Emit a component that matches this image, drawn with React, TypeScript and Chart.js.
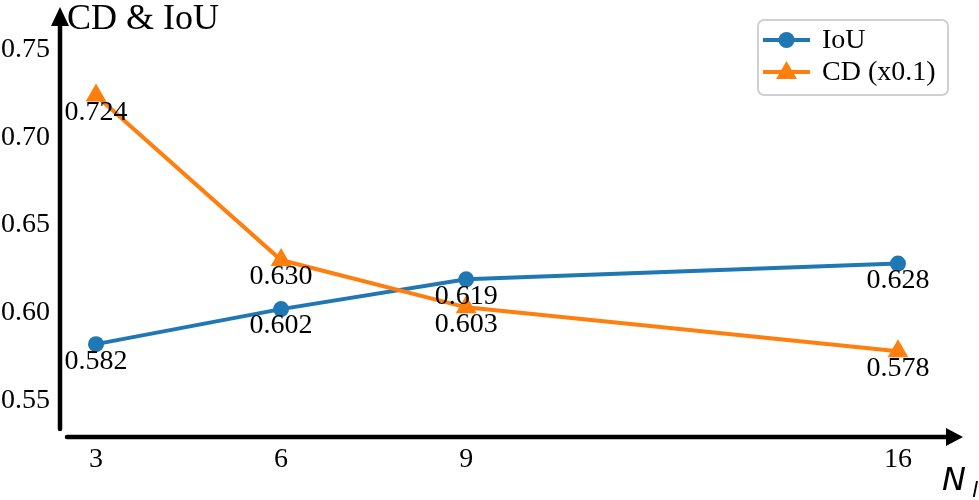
import React, { useEffect, useRef } from "react";
import { Chart, registerables } from "chart.js";

Chart.register(...registerables);

const X_VALUES = [3, 6, 9, 16];
const IOU = [0.582, 0.602, 0.619, 0.628];
const CD = [0.724, 0.63, 0.603, 0.578];
const Y_TICKS = [0.55, 0.6, 0.65, 0.7, 0.75];
const X_TICKS = [3, 6, 9, 16];
const SERIES_LABELS = ["IoU", "CD (x0.1)"];
const Y_TITLE = "CD & IoU";
const X_TITLE = "N";
const X_TITLE_SUB = "l";

const BLUE = "#1f77b4";
const ORANGE = "#ff7f0e";
const SERIF = "'Liberation Serif', 'Times New Roman', serif";
const FS = 28;

const decorPlugin = {
  id: "decor",
  beforeDatasetsDraw(chart: any) {
    const { ctx, chartArea } = chart;
    const L = chartArea.left;
    const B = chartArea.bottom;
    const T = chartArea.top;
    const R = chartArea.right;
    ctx.save();
    ctx.strokeStyle = "#000";
    ctx.fillStyle = "#000";
    ctx.lineWidth = 4.5;
    ctx.lineCap = "round";
    // y axis
    ctx.beginPath();
    ctx.moveTo(L, B - 8);
    ctx.lineTo(L, T + 10);
    ctx.stroke();
    ctx.beginPath();
    ctx.moveTo(L, T - 5);
    ctx.lineTo(L - 9, T + 14);
    ctx.lineTo(L + 9, T + 14);
    ctx.closePath();
    ctx.fill();
    // x axis
    ctx.beginPath();
    ctx.moveTo(L + 7, B);
    ctx.lineTo(R - 10, B);
    ctx.stroke();
    ctx.beginPath();
    ctx.moveTo(R + 1, B);
    ctx.lineTo(R - 16, B - 9);
    ctx.lineTo(R - 16, B + 9);
    ctx.closePath();
    ctx.fill();
    // y title
    ctx.font = `36px ${SERIF}`;
    ctx.textAlign = "left";
    ctx.textBaseline = "alphabetic";
    ctx.fillText(Y_TITLE, L + 7, T + 17);
    // x title
    ctx.font = `italic 32px 'DejaVu Sans', sans-serif`;
    ctx.fillText(X_TITLE, R - 20, B + 53);
    ctx.font = `italic 22px 'DejaVu Sans', sans-serif`;
    ctx.fillText(X_TITLE_SUB, R + 10, B + 60);
    ctx.restore();
  },
  afterDatasetsDraw(chart: any) {
    const { ctx, chartArea } = chart;
    ctx.save();
    // data labels
    ctx.font = `${FS}px ${SERIF}`;
    ctx.fillStyle = "#000";
    ctx.textAlign = "center";
    ctx.textBaseline = "middle";
    chart.data.datasets.forEach((ds: any, i: number) => {
      const meta = chart.getDatasetMeta(i);
      meta.data.forEach((el: any, j: number) => {
        const v = ds.data[j].y;
        ctx.fillText(v.toFixed(3), el.x, el.y + 17);
      });
    });
    // legend
    const lx = chartArea.right - 204;
    const ly = chartArea.top + 8;
    const w = 190;
    const h = 75;
    ctx.beginPath();
    if ((ctx as any).roundRect) (ctx as any).roundRect(lx, ly, w, h, 6);
    else ctx.rect(lx, ly, w, h);
    ctx.fillStyle = "rgba(255,255,255,0.8)";
    ctx.fill();
    ctx.strokeStyle = "#d0d0d0";
    ctx.lineWidth = 2;
    ctx.stroke();
    const rows = [
      { y: ly + 20, color: BLUE, style: "circle", label: chart.data.datasets[0].label },
      { y: ly + 52, color: ORANGE, style: "triangle", label: chart.data.datasets[1].label },
    ];
    rows.forEach((r) => {
      ctx.strokeStyle = r.color;
      ctx.fillStyle = r.color;
      ctx.lineWidth = 4;
      ctx.lineCap = "butt";
      ctx.beginPath();
      ctx.moveTo(lx + 5, r.y);
      ctx.lineTo(lx + 52, r.y);
      ctx.stroke();
      const cx = lx + 28.5;
      ctx.beginPath();
      if (r.style === "circle") {
        ctx.arc(cx, r.y, 8, 0, Math.PI * 2);
      } else {
        ctx.moveTo(cx, r.y - 11);
        ctx.lineTo(cx - 10.5, r.y + 7);
        ctx.lineTo(cx + 10.5, r.y + 7);
        ctx.closePath();
      }
      ctx.fill();
      ctx.fillStyle = "#000";
      ctx.font = `${FS}px ${SERIF}`;
      ctx.textAlign = "left";
      ctx.textBaseline = "middle";
      ctx.fillText(r.label, lx + 64, r.y + 1);
    });
    ctx.restore();
  },
};

export default function App() {
  const ref = useRef<HTMLCanvasElement>(null);
  useEffect(() => {
    if (!ref.current) return;
    const chart = new Chart(ref.current, {
      type: "line",
      data: {
        datasets: [
          {
            label: SERIES_LABELS[0],
            data: X_VALUES.map((x, i) => ({ x, y: IOU[i] })),
            borderColor: BLUE,
            backgroundColor: BLUE,
            borderWidth: 4,
            pointStyle: "circle",
            pointRadius: 8,
            pointBorderWidth: 0,
            order: 1,
          },
          {
            label: SERIES_LABELS[1],
            data: X_VALUES.map((x, i) => ({ x, y: CD[i] })),
            borderColor: ORANGE,
            backgroundColor: ORANGE,
            borderWidth: 4,
            pointStyle: "triangle",
            pointRadius: 12,
            pointBorderWidth: 0,
            order: 0,
          },
        ],
      },
      options: {
        responsive: false,
        animation: false,
        layout: { padding: { left: 0, top: 10, right: 17, bottom: 0 } },
        plugins: { legend: { display: false }, tooltip: { enabled: false } },
        scales: {
          x: {
            type: "linear",
            min: 2.4164,
            max: 17.038,
            grid: { display: false, drawTicks: false },
            border: { display: false },
            afterBuildTicks: (s: any) => {
              s.ticks = X_TICKS.map((v) => ({ value: v }));
            },
            afterFit: (s: any) => {
              s.height = 63;
              s.paddingLeft = 0;
              s.paddingRight = 0;
            },
            ticks: {
              padding: 6,
              color: "#000",
              font: { family: SERIF, size: FS },
              maxRotation: 0,
              callback: (v: any) => String(v),
            },
          },
          y: {
            type: "linear",
            min: 0.529,
            max: 0.7716,
            grid: { display: false, drawTicks: false },
            border: { display: false },
            afterBuildTicks: (s: any) => {
              s.ticks = Y_TICKS.map((v) => ({ value: v }));
            },
            afterFit: (s: any) => {
              s.width = 60;
              s.paddingTop = 0;
              s.paddingBottom = 0;
            },
            ticks: {
              padding: 10,
              color: "#000",
              font: { family: SERIF, size: FS },
              callback: (v: any) => Number(v).toFixed(2),
            },
          },
        },
      },
      plugins: [decorPlugin],
    });
    return () => chart.destroy();
  }, []);
  return (
    <div style={{ position: "fixed", left: 0, top: 0, width: 979, height: 500, background: "#fff" }}>
      <canvas ref={ref} width={979} height={500} style={{ width: 979, height: 500, display: "block" }} />
    </div>
  );
}
